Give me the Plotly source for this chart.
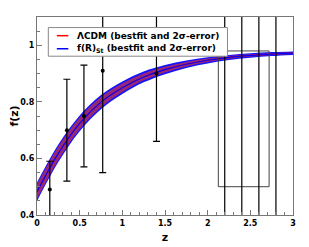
import plotly.graph_objects as go

# growth-rate band
band_z = [0, 0.25, 0.5, 0.75, 1.0, 1.25, 1.5, 1.75, 2.0, 2.25, 2.5, 2.75, 3.0]
band_f = [0.482, 0.618, 0.724, 0.799, 0.850, 0.888, 0.914, 0.933, 0.947, 0.957, 0.964, 0.969, 0.972]
outer_hw = [0.033, 0.031, 0.028, 0.025, 0.022, 0.019, 0.016, 0.013, 0.011, 0.009, 0.008, 0.007, 0.006]
inner_hw = [0.026, 0.024, 0.021, 0.018, 0.015, 0.012, 0.010, 0.008, 0.006, 0.005, 0.004, 0.003, 0.003]

# data points with error bars
obs_z = [0.15, 0.35, 0.55, 0.77, 1.4, 3.0]
obs_f = [0.49, 0.70, 0.75, 0.91, 0.90, 1.46]
obs_err = [0.10, 0.18, 0.18, 0.36, 0.24, 0.29]

# Lyman-alpha points with very large errors
lya_z = [2.2, 2.4, 2.6, 2.8]
lya_f = [1.25, 1.25, 1.25, 1.25]
lya_err = [1.0, 1.0, 1.0, 1.0]

# Lyman-alpha box (z range, f, error)
box_z = [2.125, 2.72]
box_f = 0.74
box_err = 0.24

legend_names = ["ΛCDM (bestfit and 2σ-error)", "f(R)<sub>St</sub> (bestfit and 2σ-error)"]
legend_colors = ["red", "blue"]

lo_o = [f - h for f, h in zip(band_f, outer_hw)]
hi_o = [f + h for f, h in zip(band_f, outer_hw)]
lo_i = [f - h for f, h in zip(band_f, inner_hw)]
hi_i = [f + h for f, h in zip(band_f, inner_hw)]

fig = go.Figure()
fig.add_trace(go.Scatter(x=band_z, y=lo_o, mode="lines", line=dict(width=0, shape="spline"),
                         hoverinfo="skip"))
fig.add_trace(go.Scatter(x=band_z, y=hi_o, mode="lines", line=dict(width=0, shape="spline"),
                         fill="tonexty", fillcolor="rgb(20,20,255)", hoverinfo="skip"))
fig.add_trace(go.Scatter(x=band_z, y=lo_i, mode="lines", line=dict(width=0, shape="spline"),
                         hoverinfo="skip"))
fig.add_trace(go.Scatter(x=band_z, y=hi_i, mode="lines", line=dict(width=0, shape="spline"),
                         fill="tonexty", fillcolor="rgb(150,40,120)", hoverinfo="skip"))
fig.add_trace(go.Scatter(x=band_z, y=band_f, mode="lines",
                         line=dict(color=legend_colors[0], width=1.2, shape="spline"),
                         name=legend_names[0]))
fig.add_trace(go.Scatter(x=band_z, y=band_f, mode="lines",
                         line=dict(color=legend_colors[1], width=1.2, shape="spline"),
                         name=legend_names[1]))

# box
bx = [box_z[0], box_z[1], box_z[1], box_z[0], box_z[0]]
by = [box_f - box_err, box_f - box_err, box_f + box_err, box_f + box_err, box_f - box_err]
fig.add_trace(go.Scatter(x=bx, y=by, mode="lines", line=dict(color="#444", width=1),
                         hoverinfo="skip"))

fig.add_trace(go.Scatter(x=lya_z, y=lya_f, mode="markers", marker=dict(color="black", size=4),
                         error_y=dict(type="data", array=lya_err, color="black", thickness=1.2, width=3)))
fig.add_trace(go.Scatter(x=obs_z, y=obs_f, mode="markers", marker=dict(color="black", size=4),
                         error_y=dict(type="data", array=obs_err, color="black", thickness=1.2, width=3.5)))

axis_common = dict(showline=True, linecolor="#777", linewidth=1, mirror=True, showgrid=False,
                   zeroline=False, ticks="inside", ticklen=5, tickcolor="#777", tickwidth=1,
                   automargin=False,
                   tickfont=dict(family="DejaVu Sans", size=8, color="black", weight="bold"))
fig.update_xaxes(range=[0, 3], dtick=0.5, tick0=0,
                 minor=dict(dtick=0.1, ticks="inside", ticklen=3, tickcolor="#777"),
                 title=dict(text="z", font=dict(family="DejaVu Sans", size=11, color="black", weight="bold"),
                            standoff=6),
                 **axis_common)
fig.update_yaxes(range=[0.4, 1.1], dtick=0.2, tick0=0.4,
                 minor=dict(dtick=0.05, ticks="inside", ticklen=3, tickcolor="#777"),
                 title=dict(text="f(z)", font=dict(family="DejaVu Sans", size=11, color="black", weight="bold"),
                            standoff=4),
                 **axis_common)

# manual legend (paper coordinates of the plot area)
fig.add_shape(type="rect", xref="paper", yref="paper", x0=0.0442, x1=0.744, y0=0.802, y1=0.9466,
              line=dict(color="#888", width=1), fillcolor="white", layer="above")
for i, (nm, col) in enumerate(zip(legend_names, legend_colors)):
    yy = [0.9057, 0.8396][i]
    fig.add_shape(type="line", xref="paper", yref="paper", x0=0.0774, x1=0.1224, y0=yy, y1=yy,
                  line=dict(color=col, width=1.5), layer="above")
    fig.add_annotation(xref="paper", yref="paper", x=0.1497, y=yy, xanchor="left", yanchor="middle",
                       text=nm, showarrow=False,
                       font=dict(family="DejaVu Sans", size=9, color="black", weight="bold"))

fig.update_layout(
    width=301, height=239,
    margin=dict(l=29, r=16, t=9, b=32),
    plot_bgcolor="white", paper_bgcolor="white",
    showlegend=False,
)

fig.write_html("out.html")
